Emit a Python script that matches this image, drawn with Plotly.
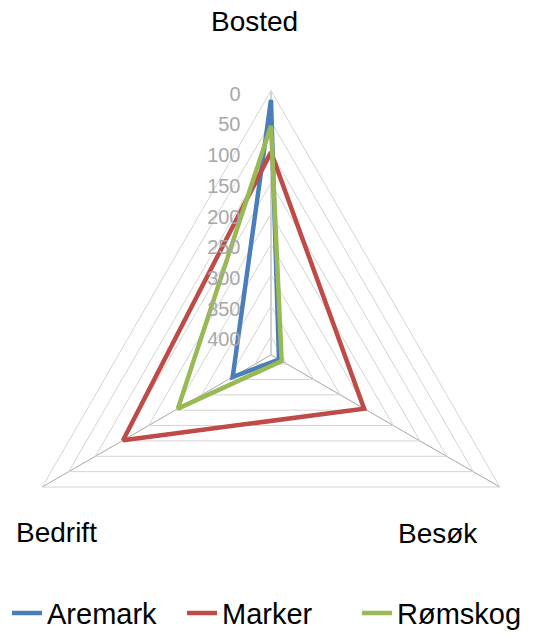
import plotly.graph_objects as go

categories = ["Bosted", "Besøk", "Bedrift"]
aremark = [15, 415, 358]
marker = [100, 255, 152]
romskog = [57, 410, 255]
series = {"Aremark": aremark, "Marker": marker, "Rømskog": romskog}
colors = {"Aremark": "#4A7EBB", "Marker": "#BE4B48", "Rømskog": "#98B954"}
tick_vals = [0, 50, 100, 150, 200, 250, 300, 350, 400]

W, H = 542, 639
cy, R = 364, 271  # centre height and radius in pixels (circle must fit the width)

fig = go.Figure()
for name, vals in series.items():
    fig.add_trace(go.Scatterpolar(
        r=vals + vals[:1], theta=categories + categories[:1],
        mode="lines", name=name,
        line=dict(color=colors[name], width=4.5), hoverinfo="skip"))

grid = "#d4d4d4"
spoke = "#a6a6a6"

fig.update_layout(
    width=W, height=H, margin=dict(l=0, r=0, t=0, b=0),
    paper_bgcolor="white", plot_bgcolor="white",
    font=dict(family="Liberation Sans, Arial, sans-serif", color="black"),
    polar=dict(
        domain=dict(x=[0, 1], y=[1 - (cy + R) / H, 1 - (cy - R) / H]),
        gridshape="linear", bgcolor="white",
        angularaxis=dict(type="category", categoryorder="array", categoryarray=categories,
                         rotation=90, direction="clockwise", showticklabels=False, ticks="",
                         showgrid=True, gridcolor=spoke, gridwidth=1,
                         showline=True, linecolor=grid, linewidth=1),
        radialaxis=dict(range=[430, 0], tickvals=tick_vals, showgrid=True, gridcolor=grid,
                        gridwidth=1, showline=False, angle=90, side="counterclockwise",
                        ticks="outside", ticklen=12, tickcolor="rgba(0,0,0,0)",
                        tickfont=dict(size=20, color="#a8a8a8")),
    ),
    legend=dict(orientation="h", x=7 / W, xanchor="left", y=1 - 629 / H, yanchor="middle",
                font=dict(size=29), entrywidth=130, tracegroupgap=0),
)

label_pos = {"Bosted": (254, 22), "Besøk": (438, 547), "Bedrift": (56, 546)}
for c in categories:
    px, py = label_pos[c]
    fig.add_annotation(text=c, x=px / W, y=1 - py / H, xref="paper", yref="paper",
                       xanchor="center", yanchor="middle",
                       showarrow=False, font=dict(size=28, color="black"))

# page has the default 8px body margin; drop it so the figure sits at the corner
fig.write_html("out.html", config={"displayModeBar": False},
               post_script="document.body.style.margin='0';")
